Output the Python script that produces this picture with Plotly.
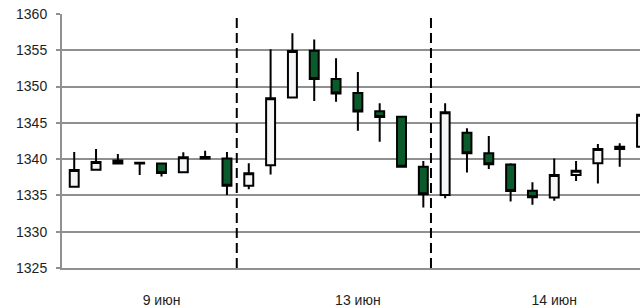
import plotly.graph_objects as go

x_idx = list(range(27))
open_ = [1336.2, 1338.55, 1339.8, 1339.5, 1339.4, 1338.2, 1340.3, 1340.1,
         1336.35, 1339.15, 1348.5, 1354.95, 1351.05, 1349.1, 1346.6, 1345.85, 1338.95,
         1335.05, 1343.65, 1340.8, 1339.25, 1335.65, 1334.7, 1337.8, 1339.45, 1341.4, 1341.7]
high_ = [1341.0, 1341.4, 1340.7, 1339.5, 1339.5, 1340.95, 1341.15, 1341.0,
         1339.45, 1355.15, 1357.35, 1356.5, 1353.9, 1352.0, 1347.7, 1345.85, 1339.75,
         1347.7, 1344.25, 1343.2, 1339.45, 1336.8, 1340.1, 1339.75, 1342.1, 1342.2, 1346.1]
low_ = [1336.2, 1338.5, 1339.3, 1337.8, 1337.6, 1338.2, 1340.05, 1335.05,
        1335.85, 1337.9, 1348.45, 1348.0, 1347.9, 1343.9, 1342.4, 1338.95, 1333.35,
        1334.6, 1338.15, 1338.65, 1334.15, 1333.7, 1334.25, 1337.0, 1336.65, 1338.95, 1341.7]
close_ = [1338.5, 1339.6, 1339.4, 1339.4, 1338.1, 1340.25, 1340.1, 1336.35,
          1338.05, 1348.4, 1354.9, 1351.05, 1349.05, 1346.55, 1345.8, 1338.95, 1335.15,
          1346.45, 1340.8, 1339.3, 1335.6, 1334.75, 1337.8, 1338.4, 1341.4, 1341.7, 1346.1]

tick_pos = [4, 13, 22]
tick_labels = ["9 июн", "13 июн", "14 июн"]
day_breaks = [7.45, 16.35]

fig = go.Figure()
fig.add_trace(go.Candlestick(
    x=x_idx, open=open_, high=high_, low=low_, close=close_,
    increasing=dict(line=dict(color="#000000", width=2), fillcolor="#f4f6f8"),
    decreasing=dict(line=dict(color="#000000", width=2), fillcolor="#0b5a2c"),
    whiskerwidth=0, showlegend=False, hoverinfo="skip",
))

for xb in day_breaks:
    fig.add_shape(type="line", xref="x", yref="y", x0=xb, x1=xb, y0=1325, y1=1360,
                  line=dict(color="#000000", width=2, dash="10px,5px"))

axis_font = dict(family="Liberation Sans, Arial, sans-serif", size=14, color="#1e1e1e")

fig.update_layout(
    width=640, height=307,
    margin=dict(l=62, r=0, t=14, b=39, autoexpand=False),
    paper_bgcolor="white", plot_bgcolor="white",
    boxgap=0.59, boxgroupgap=0,
    font=axis_font,
    xaxis=dict(
        range=[-0.56, 25.93], rangeslider=dict(visible=False), automargin=False,
        tickmode="array", tickvals=tick_pos, ticktext=tick_labels,
        showgrid=False, zeroline=False, showline=True, linecolor="#909090", linewidth=2,
        ticks="", ticklabelstandoff=18, tickfont=axis_font,
    ),
    yaxis=dict(
        range=[1325, 1360], dtick=5, tick0=1325, automargin=False,
        showgrid=True, gridcolor="#909090", gridwidth=2, zeroline=False,
        showline=True, linecolor="#909090", linewidth=2,
        ticks="outside", ticklen=4, tickcolor="#909090", tickwidth=2,
        ticklabelstandoff=6, tickfont=axis_font,
    ),
)

fig.write_html(
    "out.html",
    config={"displayModeBar": False, "staticPlot": True},
    post_script="document.body.style.margin='0';document.body.style.padding='0';"
                "document.body.style.overflow='hidden';",
)
